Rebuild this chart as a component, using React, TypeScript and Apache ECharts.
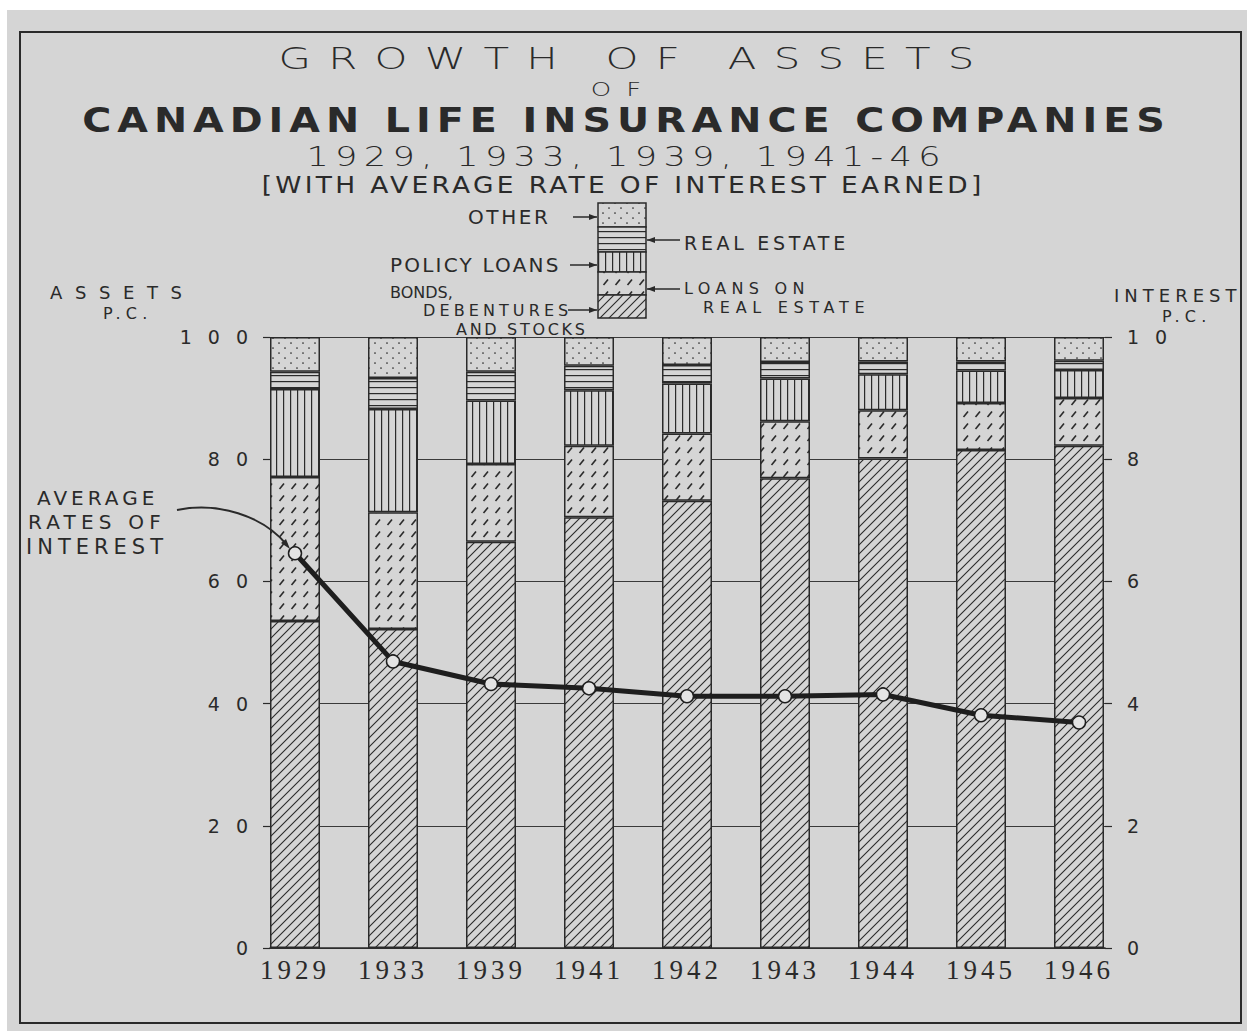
import React, { useEffect, useRef } from "react";
import * as echarts from "echarts";

// ---------- data ----------
const years = ["1929", "1933", "1939", "1941", "1942", "1943", "1944", "1945", "1946"];
const bonds = [53.5, 52.2, 66.5, 70.5, 73.2, 76.9, 80.1, 81.5, 82.2];
const loansOnRealEstate = [23.6, 19.1, 12.7, 11.7, 11.0, 9.3, 7.9, 7.7, 7.8];
const policyLoans = [14.4, 16.9, 10.4, 9.1, 8.2, 7.0, 5.9, 5.3, 4.6];
const realEstate = [2.8, 5.1, 4.7, 4.0, 3.0, 2.7, 2.1, 1.5, 1.5];
const other = [5.7, 6.7, 5.7, 4.7, 4.6, 4.1, 4.0, 4.0, 3.9];
const interestRate = [6.46, 4.69, 4.32, 4.25, 4.12, 4.12, 4.15, 3.81, 3.69];

const assetAxis = { min: 0, max: 100, interval: 20 };
const interestAxis = { min: 0, max: 10, interval: 2 };

// ---------- styling ----------
const PAPER = "#d5d5d5";
const INK = "#2a2a2a";
const SANS = "DejaVu Sans";

// letter spacing (px) applied to the SVG texts after rendering; key "text" or "text@fontSize"
const SPACING: Record<string, number> = {
  "GROWTH OF ASSETS": 12.8,
  "OF": 11.5,
  "CANADIAN LIFE INSURANCE COMPANIES": 5,
  "1929, 1933, 1939, 1941-46": 4.9,
  "[WITH AVERAGE RATE OF INTEREST EARNED]": 2.9,
  "OTHER": 2.6,
  "REAL ESTATE@19": 3.7,
  "REAL ESTATE@16": 5.7,
  "POLICY LOANS": 2.2,
  "LOANS ON": 5.3,
  "DEBENTURES": 4.1,
  "AND STOCKS": 2.7,
  "ASSETS": 12.6,
  "P.C.": 5.3,
  "INTEREST": 5,
  "AVERAGE": 4,
  "RATES OF": 5.2,
};
const AXIS_LS = 16;
const YEAR_LS = 4;
["0", "2", "4", "6", "8", "10", "20", "40", "60", "80", "100"].forEach((s) => (SPACING[s] = AXIS_LS));
years.forEach((y) => (SPACING[y] = YEAR_LS));

function spacingFor(text: string, size?: number) {
  if (size != null) {
    const k = text + "@" + size;
    if (SPACING[k] != null) return SPACING[k];
  }
  return SPACING[text];
}

function applySpacing(root: HTMLElement) {
  root.querySelectorAll("text").forEach((t) => {
    const text = (t.textContent || "").trim();
    const st = t.getAttribute("style") || "";
    const m = st.match(/(\d+(?:\.\d+)?)px/);
    const size = m ? Math.round(parseFloat(m[1])) : undefined;
    const s = spacingFor(text, size);
    if (s != null) t.setAttribute("letter-spacing", String(s));
  });
}

function makePattern(w: number, h: number, draw: (c: CanvasRenderingContext2D) => void) {
  const c = document.createElement("canvas");
  c.width = w;
  c.height = h;
  const ctx = c.getContext("2d")!;
  ctx.fillStyle = PAPER;
  ctx.fillRect(0, 0, w, h);
  ctx.strokeStyle = INK;
  ctx.fillStyle = INK;
  ctx.lineWidth = 1.1;
  draw(ctx);
  return { image: c, repeat: "repeat", imageWidth: w, imageHeight: h } as any;
}

function buildPatterns() {
  const hatch = makePattern(9, 9, (c) => {
    c.beginPath();
    c.moveTo(0, 9); c.lineTo(9, 0);
    c.moveTo(-2, 2); c.lineTo(2, -2);
    c.moveTo(7, 11); c.lineTo(11, 7);
    c.stroke();
  });
  const dashes = makePattern(12, 12, (c) => {
    c.lineWidth = 1.6;
    c.beginPath();
    c.moveTo(3.5, 9); c.lineTo(8, 3.5);
    c.stroke();
  });
  const vertical = makePattern(7, 7, (c) => {
    c.fillRect(3, 0, 1.2, 7);
  });
  const horizontal = makePattern(6, 6, (c) => {
    c.fillRect(0, 3, 6, 1.2);
  });
  const dots = makePattern(12, 10, (c) => {
    c.beginPath(); c.arc(3, 3, 0.85, 0, Math.PI * 2); c.fill();
    c.beginPath(); c.arc(9, 8, 0.85, 0, Math.PI * 2); c.fill();
  });
  return { hatch, dashes, vertical, horizontal, dots };
}

function txt(text: string, x: number, y: number, size: number, o: any = {}) {
  const align = o.align || "left";
  const ls = spacingFor(text, size) || 0;
  const sx = o.scaleX || 1;
  const dx = align === "center" ? (ls * sx) / 2 : 0;
  return {
    type: "text",
    x: x + dx,
    y,
    z: 50,
    scaleX: sx,
    style: {
      text,
      fill: INK,
      fontSize: size,
      fontFamily: o.family || SANS,
      fontWeight: o.weight || "normal",
      textAlign: align,
      align,
      textVerticalAlign: "middle",
      verticalAlign: "middle",
    },
  };
}

function arrow(x1: number, x2: number, y: number) {
  const d = x2 > x1 ? -1 : 1;
  return [
    { type: "line", z: 50, shape: { x1, y1: y, x2, y2: y }, style: { stroke: INK, lineWidth: 1.5 } },
    {
      type: "polygon",
      z: 50,
      shape: { points: [[x2, y], [x2 + d * 8, y - 3], [x2 + d * 8, y + 3]] },
      style: { fill: INK },
    },
  ];
}

export default function App() {
  const ref = useRef<HTMLDivElement>(null);

  useEffect(() => {
    const el = ref.current!;
    const chart = echarts.init(el, null, { renderer: "svg" });
    const P = buildPatterns();

    const legendX = 598;
    const legendW = 48;
    const legendSegs = [
      { y0: 203, y1: 227, fill: P.dots },
      { y0: 227, y1: 252, fill: P.horizontal },
      { y0: 252, y1: 272, fill: P.vertical },
      { y0: 272, y1: 295, fill: P.dashes },
      { y0: 295, y1: 318, fill: P.hatch },
    ];

    const barSeries = [
      { name: "BONDS, DEBENTURES AND STOCKS", data: bonds, fill: P.hatch },
      { name: "LOANS ON REAL ESTATE", data: loansOnRealEstate, fill: P.dashes },
      { name: "POLICY LOANS", data: policyLoans, fill: P.vertical },
      { name: "REAL ESTATE", data: realEstate, fill: P.horizontal },
      { name: "OTHER", data: other, fill: P.dots },
    ].map((s) => ({
      type: "bar",
      name: s.name,
      stack: "assets",
      xAxisIndex: 1,
      yAxisIndex: 2,
      barWidth: 50,
      data: s.data,
      itemStyle: { color: s.fill, borderColor: INK, borderWidth: 1.5 },
      emphasis: { disabled: true },
      z: 3,
    }));

    const option: any = {
      animation: false,
      backgroundColor: PAPER,
      grid: [
        { left: 270, right: 142, top: 337, bottom: 83 },
        { left: 246, right: 119, top: 337, bottom: 83 },
      ],
      xAxis: [
        {
          type: "value",
          gridIndex: 0,
          min: 0,
          max: 1,
          axisLine: { show: true, lineStyle: { color: INK, width: 1.5 } },
          axisTick: { show: false },
          axisLabel: { show: false },
          splitLine: { show: false },
        },
        {
          type: "category",
          gridIndex: 1,
          data: years,
          axisLine: { show: false },
          axisTick: { show: false },
          axisLabel: {
            color: INK,
            fontSize: 27,
            fontFamily: "Liberation Serif",
            margin: 8,
          },
        },
      ],
      yAxis: [
        {
          type: "value",
          gridIndex: 0,
          position: "left",
          ...assetAxis,
          axisLine: { show: false },
          axisTick: { show: true, length: 7, lineStyle: { color: INK, width: 1.2 } },
          axisLabel: { color: INK, fontSize: 19, fontFamily: SANS, margin: 6 },
          splitLine: { show: true, lineStyle: { color: "#3a3a3a", width: 1.1 } },
        },
        {
          type: "value",
          gridIndex: 0,
          position: "right",
          ...interestAxis,
          axisLine: { show: false },
          axisTick: { show: true, length: 7, lineStyle: { color: INK, width: 1.2 } },
          axisLabel: { color: INK, fontSize: 19, fontFamily: SANS, margin: 22 },
          splitLine: { show: false },
        },
        { type: "value", gridIndex: 1, ...assetAxis, show: false, splitLine: { show: false } },
        { type: "value", gridIndex: 1, ...interestAxis, show: false, splitLine: { show: false } },
      ],
      series: [
        ...barSeries,
        {
          type: "line",
          name: "AVERAGE RATES OF INTEREST",
          xAxisIndex: 1,
          yAxisIndex: 3,
          data: interestRate,
          symbol: "circle",
          symbolSize: 13,
          lineStyle: { color: "#1e1e1e", width: 5 },
          itemStyle: { color: "#e4e4e4", borderColor: "#1e1e1e", borderWidth: 1.5 },
          emphasis: { disabled: true },
          z: 10,
        },
      ],
      graphic: {
        elements: [
          // white margins of the scan
          { type: "rect", z: 0, shape: { x: 0, y: 0, width: 1247, height: 10 }, style: { fill: "#ffffff" } },
          { type: "rect", z: 0, shape: { x: 0, y: 0, width: 7, height: 1031 }, style: { fill: "#ffffff" } },
          // frame
          {
            type: "rect",
            z: 1,
            shape: { x: 20, y: 32, width: 1221, height: 991 },
            style: { fill: "none", stroke: INK, lineWidth: 2 },
          },
          // titles
          txt("GROWTH OF ASSETS", 626.5, 58.5, 31, { align: "center", weight: 200, scaleX: 1.35 }),
          txt("OF", 616, 89, 20, { align: "center", weight: 200, scaleX: 1.3 }),
          txt("CANADIAN LIFE INSURANCE COMPANIES", 623.5, 121, 33, { align: "center", weight: "bold", scaleX: 1.2 }),
          txt("1929, 1933, 1939, 1941-46", 623.5, 157, 27, { align: "center", weight: 200, scaleX: 1.3 }),
          txt("[WITH AVERAGE RATE OF INTEREST EARNED]", 621.5, 185, 23, { align: "center", scaleX: 1.15 }),
          // legend box
          ...legendSegs.map((s) => ({
            type: "rect",
            z: 40,
            shape: { x: legendX, y: s.y0, width: legendW, height: s.y1 - s.y0 },
            style: { fill: s.fill, stroke: INK, lineWidth: 1.5 },
          })),
          txt("OTHER", 468, 217, 20),
          ...arrow(573, 597, 217),
          txt("REAL ESTATE", 684, 243, 19),
          ...arrow(680, 647, 240),
          txt("POLICY LOANS", 390, 265, 20),
          ...arrow(570, 597, 265),
          txt("BONDS,", 390, 292, 16),
          txt("DEBENTURES", 423, 310.5, 16),
          ...arrow(568, 597, 310),
          txt("AND STOCKS", 456, 329, 16),
          txt("LOANS ON", 684, 288, 16),
          ...arrow(680, 647, 289),
          txt("REAL ESTATE", 703, 307, 16),
          // axis titles
          txt("ASSETS", 50, 292, 18),
          txt("P.C.", 103, 313, 16),
          txt("INTEREST", 1114, 295, 18),
          txt("P.C.", 1162, 316, 16),
          // line annotation
          txt("AVERAGE", 37, 498, 20),
          txt("RATES OF", 28, 522, 20),
          txt("INTEREST", 26, 547, 21),
          {
            type: "bezierCurve",
            z: 45,
            shape: { x1: 177, y1: 510, cpx1: 218, cpy1: 502, cpx2: 262, cpy2: 515, x2: 287, y2: 545 },
            style: { stroke: INK, lineWidth: 2, fill: "none" },
          },
          {
            type: "polygon",
            z: 45,
            shape: { points: [[290, 549], [281, 543], [286, 539]] },
            style: { fill: INK },
          },
        ],
      },
    };

    chart.setOption(option);
    applySpacing(el);
    chart.on("finished", () => applySpacing(el));
    const t = window.setTimeout(() => applySpacing(el), 50);
    return () => {
      window.clearTimeout(t);
      chart.dispose();
    };
  }, []);

  return (
    <div
      ref={ref}
      style={{ position: "fixed", left: 0, top: 0, width: 1247, height: 1031, background: "#ffffff" }}
    />
  );
}
